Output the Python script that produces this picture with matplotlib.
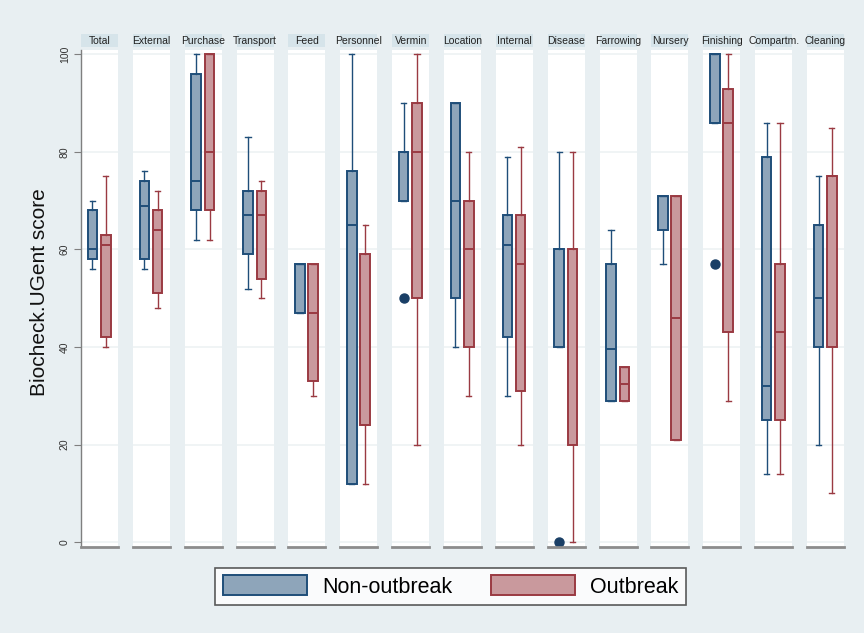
import matplotlib.pyplot as plt
from matplotlib.patches import Patch, Rectangle

plt.rcParams['font.family'] = ['Liberation Sans', 'DejaVu Sans']

# panels (one per biosecurity category)
categories = ["Total", "External", "Purchase", "Transport", "Feed", "Personnel",
              "Vermin", "Location", "Internal", "Disease", "Farrowing", "Nursery",
              "Finishing", "Compartm.", "Cleaning"]

# box stats: [whislo, q1, med, q3, whishi]
non_outbreak = [
    [56, 58, 60, 68, 70],
    [56, 58, 69, 74, 76],
    [62, 68, 74, 96, 100],
    [52, 59, 67, 72, 83],
    [47, 47, 57, 57, 57],
    [12, 12, 65, 76, 100],
    [70, 70, 80, 80, 90],
    [40, 50, 70, 90, 90],
    [30, 42, 61, 67, 79],
    [40, 40, 60, 60, 80],
    [29, 29, 39.5, 57, 64],
    [57, 64, 71, 71, 71],
    [86, 86, 100, 100, 100],
    [14, 25, 32, 79, 86],
    [20, 40, 50, 65, 75],
]
outbreak = [
    [40, 42, 61, 63, 75],
    [48, 51, 64, 68, 72],
    [62, 68, 80, 100, 100],
    [50, 54, 67, 72, 74],
    [30, 33, 47, 57, 57],
    [12, 24, 24, 59, 65],
    [20, 50, 80, 90, 100],
    [30, 40, 60, 70, 80],
    [20, 31, 57, 67, 81],
    [0, 20, 60, 60, 80],
    [29, 29, 32.5, 36, 36],
    [21, 21, 46, 71, 71],
    [29, 43, 86, 93, 100],
    [14, 25, 43, 57, 86],
    [10, 40, 75, 75, 85],
]
# outside values (non-outbreak only)
non_outbreak_fliers = {"Vermin": [50], "Disease": [0], "Finishing": [57]}

yticks = [0, 20, 40, 60, 80, 100]

bg = "#e8eff2"
strip_col = "#d6e4ea"
blue_fill, blue_edge = "#8ea5ba", "#1f4e79"
red_fill, red_edge = "#c9999d", "#9a3a42"

W, H = 864, 633
fig = plt.figure(figsize=(W / 100, H / 100), dpi=100, facecolor=bg)

def to_stats(v, fl=()):
    return {"whislo": v[0], "q1": v[1], "med": v[2], "q3": v[3], "whishi": v[4],
            "fliers": list(fl)}

top_px, bot_px = 50, 547
for i, cat in enumerate(categories):
    x0 = 81 + i * 51.86
    ax = fig.add_axes([x0 / W, 1 - bot_px / H, 37 / W, (bot_px - top_px) / H])
    ax.set_facecolor("white")
    ax.set_xlim(0, 1)
    ax.set_ylim(-1.0, 100.9)
    for y in yticks:
        ax.axhline(y, color="#edf2f4", lw=1.2, zorder=0)

    for stats, pos, fc, ec, fl in [
        (non_outbreak[i], 0.31, blue_fill, blue_edge, non_outbreak_fliers.get(cat, [])),
        (outbreak[i], 0.67, red_fill, red_edge, []),
    ]:
        ax.bxp([to_stats(stats, fl)], positions=[pos], widths=0.26, capwidths=0.14,
               patch_artist=True, manage_ticks=False,
               boxprops=dict(facecolor=fc, edgecolor=ec, linewidth=1.4),
               medianprops=dict(color=ec, linewidth=1.4),
               whiskerprops=dict(color=ec, linewidth=1.0),
               capprops=dict(color=ec, linewidth=1.0),
               flierprops=dict(marker="o", markerfacecolor="#1a3f66",
                               markeredgecolor="#1a3f66", markersize=6.5))

    for s in ["top", "right", "left"]:
        ax.spines[s].set_visible(False)
    ax.spines["bottom"].set_color("#8c8c8c")
    ax.spines["bottom"].set_linewidth(2)
    ax.set_xticks([])
    if i == 0:
        ax.spines["left"].set_visible(True)
        ax.spines["left"].set_color("#7f7f7f")
        ax.spines["left"].set_linewidth(1)
        ax.set_yticks(yticks)
        ax.set_yticklabels([str(t) for t in yticks], rotation=90, va="center",
                           fontsize=7.5, color="#333333")
        ax.tick_params(axis="y", length=5, color="#7f7f7f", pad=3)
    else:
        ax.set_yticks([])

    # strip title
    ax.add_patch(Rectangle((0, 1.006), 1, 0.027, transform=ax.transAxes,
                           facecolor=strip_col, edgecolor="none", clip_on=False))
    ax.text(0.5, 1.019, cat, transform=ax.transAxes, ha="center", va="center",
            fontsize=7.5, color="#222222")

fig.text(40 / W, 1 - 292 / H, "Biocheck.UGent score", rotation=90,
         ha="center", va="center", fontsize=15, color="#111111")

handles = [Patch(facecolor=blue_fill, edgecolor=blue_edge, linewidth=1.4, label="Non-outbreak"),
           Patch(facecolor=red_fill, edgecolor=red_edge, linewidth=1.4, label="Outbreak")]
leg = fig.legend(handles=handles, loc="center", ncol=2,
                 bbox_to_anchor=(450.5 / W, 1 - 586.5 / H), fontsize=15.5,
                 frameon=True, fancybox=False, handlelength=3.9, handleheight=1.0,
                 handletextpad=0.7, columnspacing=1.8, borderpad=0.35)
leg.get_frame().set_edgecolor("#333333")
leg.get_frame().set_linewidth(1.2)

fig.savefig("out.png", dpi=100, facecolor=bg)
